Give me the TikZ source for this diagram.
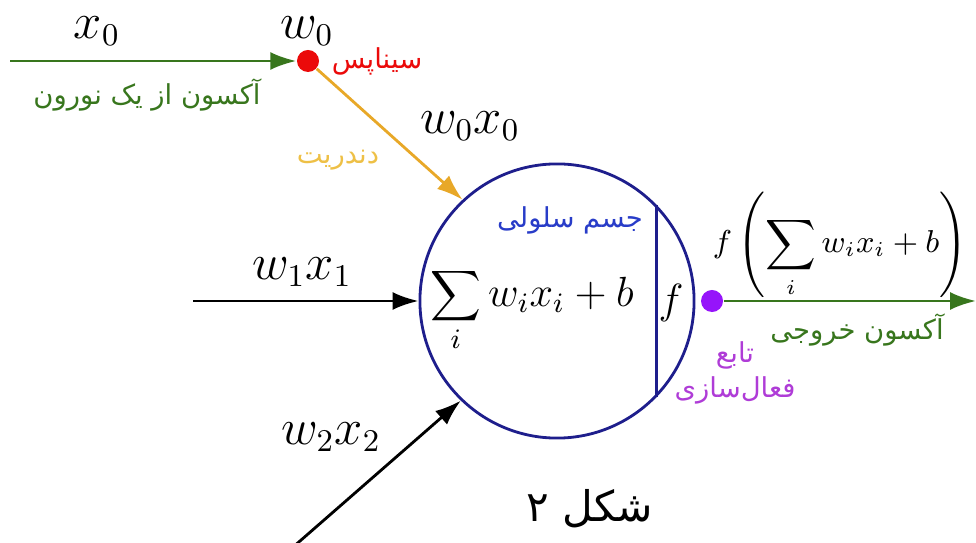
\documentclass[tikz,border=0pt]{standalone}
\usepackage{fontspec}
\usetikzlibrary{arrows.meta,positioning,calc}
\TeXXeTstate=1
\newfontfamily\farsi[Script=Arabic]{DejaVu Sans}
\definecolor{axon}{RGB}{56,118,29}
\definecolor{synred}{RGB}{235,10,10}
\definecolor{dend}{RGB}{232,168,40}
\definecolor{dendtxt}{RGB}{238,192,70}
\definecolor{cell}{RGB}{30,30,140}
\definecolor{celltxt}{RGB}{40,60,200}
\definecolor{actv}{RGB}{150,20,250}
\definecolor{actvtxt}{RGB}{175,60,215}
\begin{document}
\begin{tikzpicture}[x=0.01cm,y=-0.01cm,
  link/.style={line width=0.8pt,-{Latex[length=2.6mm,width=1.8mm]}},
  fa/.style={font=\farsi\fontsize{7.8}{10}\selectfont},
  lab/.style={font=\fontsize{13.5}{16}\selectfont,inner sep=1pt}]
  \useasboundingbox (0,0) rectangle (976,543);
  % cell body and synapses
  \node[circle,draw=cell,line width=0.8pt,minimum size=2.74cm,inner sep=0] (body) at (557,301) {};
  \draw[cell,line width=0.8pt] (body.44) -- (body.-44);
  \node[circle,fill=synred,minimum size=0.22cm,inner sep=0] (syn) at (308,61) {};
  \node[circle,fill=actv,minimum size=0.22cm,inner sep=0] (act) at (712,301) {};
  \coordinate (in0) at (10,61);
  \coordinate (in1) at (193,301);
  \coordinate (in2) at (292,548);
  \coordinate (out) at (976,301);
  % connectors
  \draw[link,axon] (in0) -- (syn);
  \draw[link,dend] (syn) -- (body.133);
  \draw[link,black] (in1) -- (body.west);
  \draw[link,black] (in2) -- (body.-134);
  \draw[link,axon] (act) -- (out);
  % math labels
  \node[lab] (x0) at (97,31) {$x_0$};
  \node[lab] (w0) at (307,31) {$w_0$};
  \node[lab] (w0x0) at (470,126) {$w_0x_0$};
  \node[lab] (w1x1) at (302,272) {$w_1x_1$};
  \node[lab] (w2x2) at (331,437) {$w_2x_2$};
  \node[font=\large] (sum) at (532,310) {$\displaystyle\sum_i w_ix_i+b$};
  \node[font=\large] (f) at (671,303) {$f$};
  \node[font=\fontsize{8.8}{11}\selectfont] (fsum) at (840,245) {$f\left(\displaystyle\sum_i w_ix_i+b\right)$};
  % persian labels
  \node[fa,text=axon] (t0) at (147,95) {\beginR آکسون از یک نورون\endR};
  \node[fa,text=synred] (t1) at (377,61) {\beginR سیناپس\endR};
  \node[fa,text=dendtxt] (t2) at (338,160) {\beginR دندریت\endR};
  \node[fa,text=celltxt] (t3) at (570,220) {\beginR جسم سلولی\endR};
  \node[fa,text=axon] (t4) at (857,330) {\beginR آکسون خروجی\endR};
  \node[fa,text=actvtxt,align=center] (t5) at (735,373) {\beginR تابع\endR\\\beginR فعال‌سازی\endR};
  \node[font=\farsi\fontsize{12}{14}\selectfont] (cap) at (590,509) {\beginR شکل ۲\endR};
\end{tikzpicture}
\end{document}
